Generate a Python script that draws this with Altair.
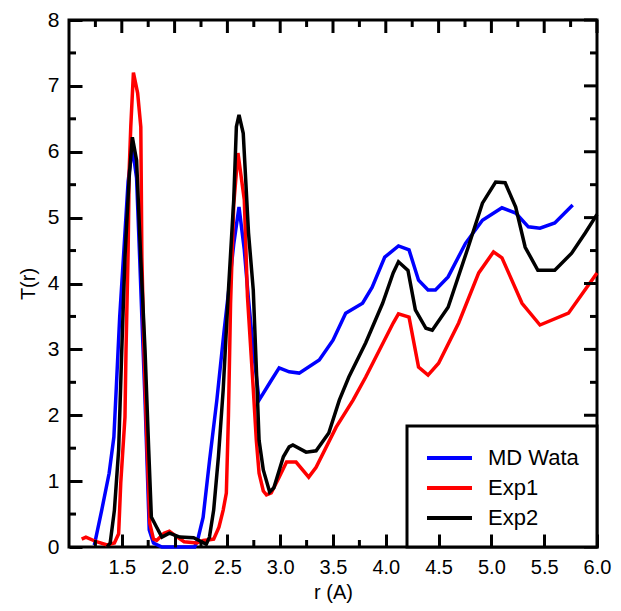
import altair as alt
import pandas as pd

# ---- data ----
series_names = ["MD Wata", "Exp1", "Exp2"]
series_colors = ["#0000ff", "#ff0000", "#000000"]

r_md = [1.24, 1.31, 1.38, 1.425, 1.45, 1.48, 1.52, 1.56, 1.60, 1.64, 1.67, 1.69, 1.72, 1.76, 1.80, 1.88,
        2.19, 2.22, 2.27, 2.33, 2.40, 2.47, 2.52, 2.56, 2.61, 2.66, 2.70, 2.745, 2.80, 2.90, 2.99, 3.085,
        3.18, 3.37, 3.50, 3.62, 3.78, 3.87, 3.99, 4.12, 4.22, 4.31, 4.40, 4.47, 4.59, 4.755, 4.915, 5.10,
        5.23, 5.35, 5.46, 5.60, 5.77]
t_md = [0.03, 0.56, 1.12, 1.67, 2.49, 3.49, 4.51, 5.55, 6.07, 5.6, 4.36, 3.49, 2.23, 0.26, 0.06, 0.0,
        0.0, 0.12, 0.45, 1.3, 2.23, 3.3, 4.0, 4.6, 5.16, 4.51, 3.75, 3.0, 2.23, 2.49, 2.72, 2.66,
        2.64, 2.84, 3.14, 3.55, 3.70, 3.94, 4.40, 4.57, 4.51, 4.05, 3.90, 3.90, 4.10, 4.61, 4.96, 5.15,
        5.07, 4.86, 4.84, 4.92, 5.19]

r_exp1 = [1.12, 1.16, 1.26, 1.36, 1.43, 1.47, 1.49, 1.53, 1.54, 1.56, 1.57, 1.585, 1.61, 1.65, 1.68, 1.69,
          1.71, 1.74, 1.765, 1.80, 1.83, 1.90, 1.95, 2.00, 2.09, 2.21, 2.27, 2.33, 2.37, 2.42, 2.46, 2.49,
          2.51, 2.53, 2.56, 2.60, 2.66, 2.69, 2.745, 2.774, 2.80, 2.84, 2.87, 2.915, 2.99, 3.06, 3.15, 3.27,
          3.34, 3.53, 3.69, 3.81, 4.07, 4.12, 4.22, 4.31, 4.40, 4.50, 4.69, 4.88, 5.02, 5.10, 5.29, 5.46,
          5.73, 6.0]
t_exp1 = [0.12, 0.15, 0.08, 0.03, 0.06, 0.2, 0.97, 1.97, 3.0, 4.5, 5.72, 6.38, 7.2, 6.89, 6.38, 4.4,
          3.0, 1.47, 0.36, 0.12, 0.10, 0.21, 0.24, 0.18, 0.08, 0.06, 0.1, 0.11, 0.12, 0.3, 0.56, 0.82,
          2.0, 3.7, 5.2, 5.98, 5.27, 3.8, 2.4, 1.62, 1.12, 0.85, 0.79, 0.82, 1.06, 1.29, 1.29, 1.06,
          1.21, 1.82, 2.23, 2.58, 3.40, 3.54, 3.49, 2.73, 2.61, 2.79, 3.40, 4.16, 4.48, 4.39, 3.70, 3.37,
          3.55, 4.16]

r_exp2 = [1.36, 1.39, 1.43, 1.47, 1.50, 1.53, 1.57, 1.60, 1.64, 1.68, 1.72, 1.755, 1.78, 1.83, 1.88, 1.95,
          2.05, 2.18, 2.255, 2.30, 2.33, 2.37, 2.415, 2.46, 2.51, 2.56, 2.585, 2.61, 2.65, 2.70, 2.745, 2.77,
          2.80, 2.84, 2.90, 2.94, 3.03, 3.085, 3.12, 3.245, 3.34, 3.46, 3.56, 3.65, 3.81, 3.97, 4.07, 4.12,
          4.21, 4.28, 4.38, 4.44, 4.59, 4.78, 4.915, 5.04, 5.13, 5.23, 5.32, 5.44, 5.60, 5.76, 5.89, 6.0]
t_exp2 = [0.0, 0.06, 0.56, 1.47, 3.0, 4.4, 5.62, 6.22, 5.87, 4.36, 2.99, 1.47, 0.455, 0.30, 0.15, 0.21,
          0.15, 0.14, 0.08, 0.04, 0.15, 0.56, 1.37, 2.38, 3.90, 5.27, 6.38, 6.56, 6.28, 4.77, 3.90, 2.88,
          1.62, 1.17, 0.835, 0.90, 1.37, 1.52, 1.55, 1.44, 1.46, 1.73, 2.23, 2.58, 3.10, 3.70, 4.16, 4.33,
          4.20, 3.60, 3.32, 3.29, 3.64, 4.55, 5.22, 5.54, 5.53, 5.16, 4.55, 4.20, 4.20, 4.46, 4.77, 5.05]

x_major = [1.5, 2.0, 2.5, 3.0, 3.5, 4.0, 4.5, 5.0, 5.5, 6.0]
x_minor = [1.25, 1.75, 2.25, 2.75, 3.25, 3.75, 4.25, 4.75, 5.25, 5.75]
y_major = [0, 1, 2, 3, 4, 5, 6, 7, 8]
y_minor = [0.5, 1.5, 2.5, 3.5, 4.5, 5.5, 6.5, 7.5]
x_range = [1.0, 6.0]
y_range = [0, 8]

rows = []
for name, rs, ts in zip(series_names, [r_md, r_exp1, r_exp2], [t_md, t_exp1, t_exp2]):
    for r, t in zip(rs, ts):
        rows.append({"series": name, "r": r, "T": t})
df = pd.DataFrame(rows)

FONT = "Liberation Sans"
MAJOR = 13
MINOR = 7
xs = alt.Scale(domain=x_range, nice=False, zero=False)
ys = alt.Scale(domain=y_range, nice=False, zero=False)

# main axes: labels plus inward major ticks, drawn above the plot (zindex 1)
lines = alt.Chart(df).mark_line(strokeWidth=3.5).encode(
    x=alt.X("r:Q", scale=xs, axis=alt.Axis(
        orient="bottom", values=x_major, format=".1f", domain=False, grid=False, zindex=1,
        ticks=True, tickSize={"expr": str(-MAJOR)}, tickWidth=3, tickColor="black",
        labelFont=FONT, labelFontSize=20, labelColor="black", labelPadding=10 + MAJOR,
        labelFlush=False,
        title="r (A)", titleFont=FONT, titleFontSize=20, titleFontWeight="normal",
        titleColor="black", titlePadding=5)),
    y=alt.Y("T:Q", scale=ys, axis=alt.Axis(
        orient="left", values=y_major, format="d", domain=False, grid=False, zindex=1,
        ticks=True, tickSize={"expr": str(-MAJOR)}, tickWidth=3, tickColor="black",
        labelFont=FONT, labelFontSize=21, labelColor="black", labelPadding=10 + MAJOR,
        labelFlush=False,
        title="T(r)", titleFont=FONT, titleFontSize=20, titleFontWeight="normal",
        titleColor="black", titlePadding=9)),
    color=alt.Color("series:N", sort=series_names,
                    scale=alt.Scale(domain=series_names, range=series_colors),
                    legend=alt.Legend(title=None, orient="bottom-right", offset=0,
                                      symbolType="M-1,0H2.75", symbolSize=576, symbolStrokeWidth=4,
                                      labelFont=FONT, labelFontSize=22, labelColor="black",
                                      labelOffset=35, padding=18, rowPadding=5,
                                      strokeColor="black", fillColor="white")),
)


def x_ticks(vals, at, offset):
    # short rules standing on the bottom/top frame line, pointing inward
    return alt.Chart(pd.DataFrame({"v": vals})).mark_rule(
        strokeWidth=3, color="black", y2Offset=offset
    ).encode(
        x=alt.X("v:Q", scale=xs, axis=None),
        y=alt.YDatum(at, scale=ys, axis=None),
        y2=alt.Y2Datum(at),
    )


def y_ticks(vals, at, offset):
    return alt.Chart(pd.DataFrame({"v": vals})).mark_rule(
        strokeWidth=3, color="black", x2Offset=offset
    ).encode(
        y=alt.Y("v:Q", scale=ys, axis=None),
        x=alt.XDatum(at, scale=xs, axis=None),
        x2=alt.X2Datum(at),
    )


chart = alt.layer(
    lines,
    x_ticks(x_minor, y_range[0], -MINOR),
    x_ticks(x_major, y_range[1], MAJOR), x_ticks(x_minor, y_range[1], MINOR),
    y_ticks(y_minor, x_range[0], MINOR),
    y_ticks(y_major, x_range[1], -MAJOR), y_ticks(y_minor, x_range[1], -MINOR),
).resolve_axis(
    x="independent", y="independent"
).properties(
    width=528, height=527,
    padding={"left": 61, "top": 12, "right": 16, "bottom": 56},
    autosize=alt.AutoSizeParams(type="none"),
).configure_view(
    stroke="black", strokeWidth=3
).configure_legend(
    strokeWidth=3
)

chart.save("out.html", embed_options={"renderer": "svg", "actions": False})
